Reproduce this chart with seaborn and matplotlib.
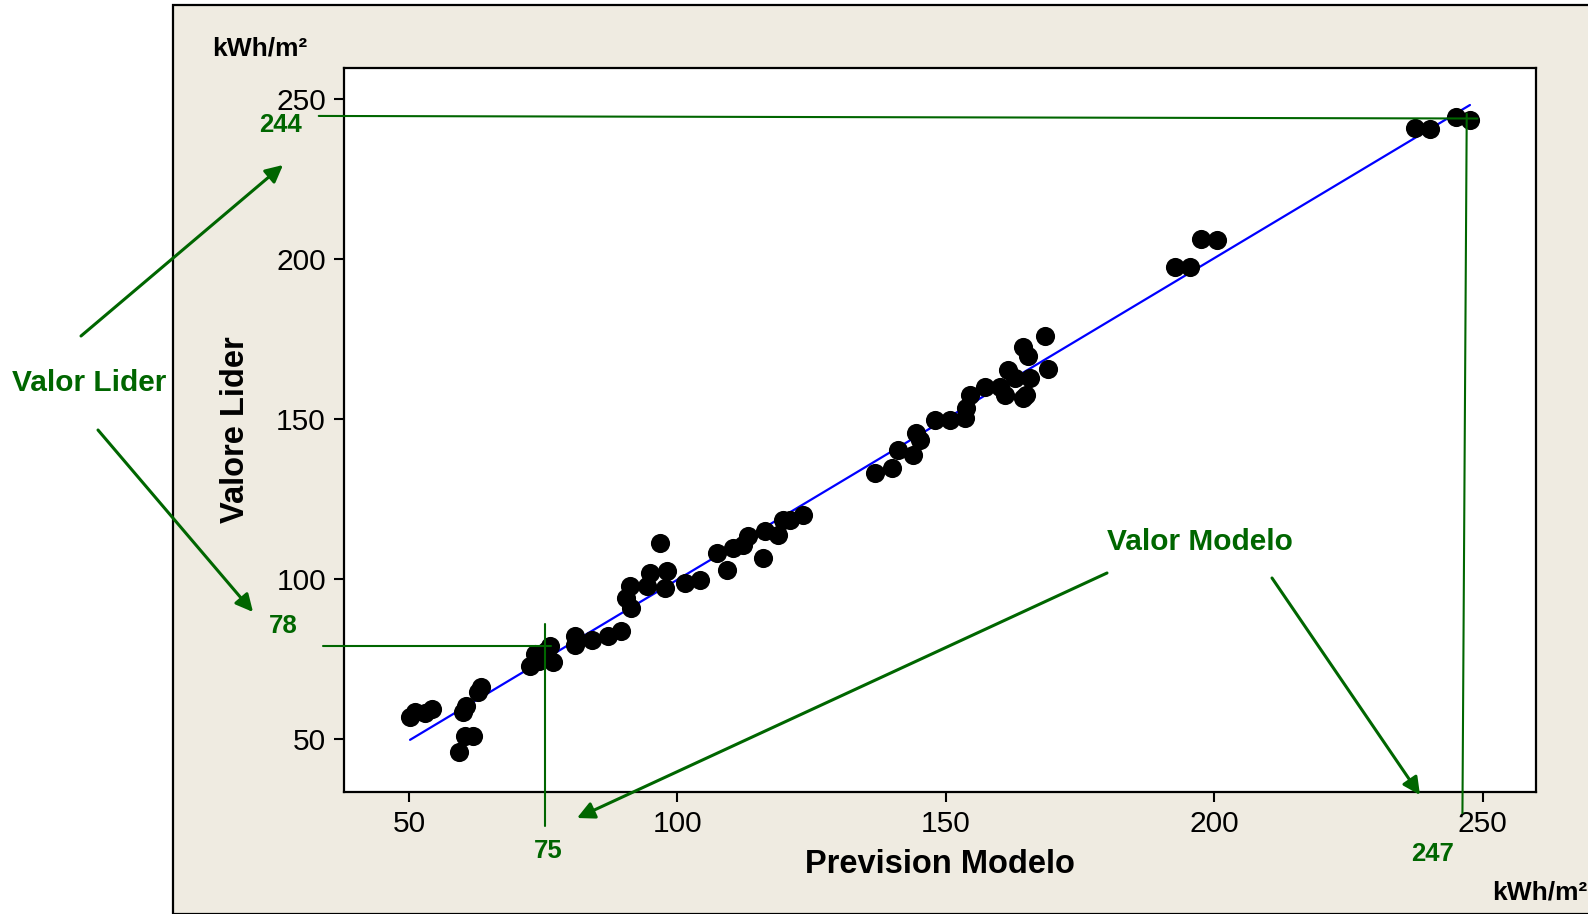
import numpy as np
import matplotlib
matplotlib.use("Agg")
import matplotlib.pyplot as plt
from matplotlib.patches import Rectangle, FancyArrowPatch
import seaborn as sns

# Values (x = model forecast, y = Lider value)
prevision_modelo = [
    50.2, 51.1, 53.0, 54.2, 60.1, 60.6, 62.9, 63.4, 59.3, 60.4, 61.9,
    72.6, 73.5, 74.3, 76.2, 76.8, 75.5, 80.9, 80.9, 84.1, 87.1, 89.5,
    90.4, 91.2, 91.3, 94.9, 94.3, 98.0, 97.7, 96.7, 101.4, 104.2, 107.3,
    109.2, 110.4, 112.3, 113.2, 116.0, 116.3, 118.8, 119.7, 121.0, 123.4,
    136.8, 139.9, 141.1, 143.9, 144.5, 145.2, 148.0, 150.7, 153.5, 153.8,
    154.5, 157.3, 160.1, 161.0, 161.6, 162.9, 164.4, 165.0, 165.6, 164.4,
    165.3, 168.4, 169.0,
    192.6, 195.4, 197.6, 200.4, 237.3, 240.1, 245.0, 247.6,
]
valore_lider = [
    56.8, 58.3, 58.0, 59.3, 58.5, 60.3, 64.8, 66.2, 46.0, 51.0, 51.0,
    72.8, 76.5, 74.5, 79.0, 74.0, 77.5, 82.3, 79.5, 80.8, 82.3, 83.8,
    94.0, 97.7, 91.0, 101.9, 97.7, 102.4, 97.2, 111.3, 98.8, 99.8, 108.1,
    102.9, 109.7, 110.7, 113.3, 106.5, 114.9, 113.8, 118.5, 118.5, 120.1,
    133.1, 134.7, 140.4, 138.8, 145.6, 143.5, 149.8, 149.8, 150.3, 153.4,
    157.6, 160.2, 160.2, 157.6, 165.4, 162.9, 156.5, 157.6, 162.8, 172.7,
    169.6, 176.0, 165.6,
    197.7, 197.7, 206.3, 206.0, 240.9, 240.6, 244.4, 243.5,
]

# highlighted reference values
lider_hi, modelo_hi = 244, 247
lider_lo, modelo_lo = 78, 75

x_ticks = [50, 100, 150, 200, 250]
y_ticks = [50, 100, 150, 200, 250]

GREEN = "#006600"
BEIGE = "#EFEBE1"
W, H = 1588, 914


def px(x, y):
    # pixel position in the picture -> figure fraction
    return (x / W, 1 - y / H)


sns.set_style("white")
plt.rcParams["font.family"] = ["Liberation Sans", "DejaVu Sans"]
plt.rcParams["text.color"] = "black"

fig = plt.figure(figsize=(W / 100, H / 100), dpi=100)
fig.patch.set_facecolor("white")

# beige panel with black frame behind the plot
fig.add_artist(Rectangle(px(173, 914), (W - 173 + 10) / W, (914 - 4.7) / H,
                         transform=fig.transFigure, facecolor=BEIGE,
                         edgecolor="black", linewidth=1.6, zorder=0))

ax = fig.add_axes([344 / W, 1 - 791.7 / H, (1536 - 344) / W, (791.7 - 68.3) / H])
ax.set_facecolor("white")

sns.regplot(x=prevision_modelo, y=valore_lider, scatter=False, ci=None,
            truncate=True, color="#0000FF", line_kws={"lw": 1.6, "zorder": 1}, ax=ax)
sns.scatterplot(x=prevision_modelo, y=valore_lider, color="black", s=190,
                linewidth=0, zorder=2, ax=ax)

ax.set_xlim(37.9, 259.9)
ax.set_ylim(33.5, 259.7)
ax.set_xticks(x_ticks)
ax.set_yticks(y_ticks)
ax.tick_params(axis="both", direction="out", length=7, width=1.5,
               labelsize=21.5, colors="black", pad=6, bottom=True, left=True)
for sp in ax.spines.values():
    sp.set_color("black")
    sp.set_linewidth(1.6)

ax.set_xlabel("Prevision Modelo", fontsize=23.5, fontweight="bold",
              color="black", va="center")
ax.xaxis.set_label_coords(0.5, -0.1)
ax.set_ylabel("Valore Lider", fontsize=23.5, fontweight="bold",
              color="black", va="center")
ax.yaxis.set_label_coords(-0.0914, 0.5)

# reference lines for the highlighted points (drawn past the axes)
ref_kw = dict(color=GREEN, lw=1.5, clip_on=False, zorder=3)
ax.plot([33.2, 249.0], [lider_hi + 0.8, lider_hi], **ref_kw)
ax.plot([modelo_hi, modelo_hi - 0.8], [lider_hi + 1.5, 26.8], **ref_kw)
ax.plot([34.0, 76.5], [lider_lo + 1.2, lider_lo + 1.2], **ref_kw)
ax.plot([modelo_lo + 0.3, modelo_lo + 0.3], [86.0, 22.8], **ref_kw)

# units
fig.text(*px(260, 49), "kWh/m²", fontsize=19, fontweight="bold",
         color="black", ha="center", va="center")
fig.text(*px(1587, 893), "kWh/m²", fontsize=19, fontweight="bold",
         color="black", ha="right", va="center")

# value labels
val_kw = dict(fontsize=18.5, fontweight="bold", color=GREEN, ha="center", va="center")
fig.text(*px(280, 125), str(lider_hi), **val_kw)
fig.text(*px(283, 626), str(lider_lo), **val_kw)
fig.text(*px(548, 851), str(modelo_lo), **val_kw)
fig.text(*px(1433, 854), str(modelo_hi), **val_kw)

# callouts
call_kw = dict(fontsize=21.5, fontweight="bold", color=GREEN, ha="center", va="center")
fig.text(*px(89, 383), "Valor Lider", **call_kw)
fig.text(*px(1200, 542), "Valor Modelo", **call_kw)

arrows = [((81, 336), (283, 165)), ((98, 430), (253, 612)),
          ((1107, 573), (577, 818)), ((1272, 578), (1420, 795))]
for start, end in arrows:
    fig.add_artist(FancyArrowPatch(px(*start), px(*end), transform=fig.transFigure,
                                   arrowstyle="-|>", mutation_scale=26, lw=2.2,
                                   color=GREEN, shrinkA=0, shrinkB=0, zorder=4))

fig.savefig("out.png", dpi=100)
